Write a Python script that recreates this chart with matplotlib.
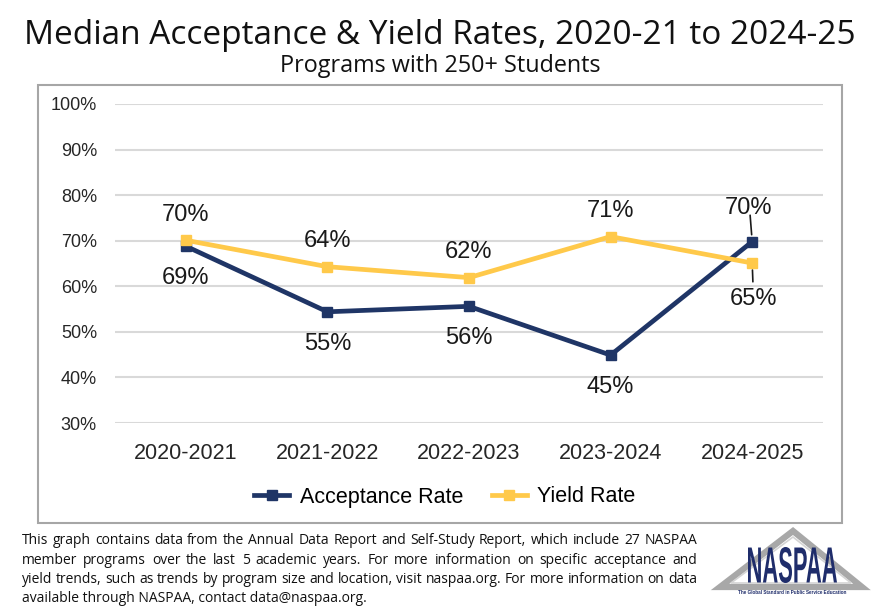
import matplotlib
matplotlib.use("Agg")
import matplotlib.pyplot as plt
from matplotlib.patches import Rectangle, Polygon, PathPatch
from matplotlib.lines import Line2D
from matplotlib.textpath import TextPath
from matplotlib.font_manager import FontProperties
from matplotlib.transforms import Affine2D

categories = ["2020-2021", "2021-2022", "2022-2023", "2023-2024", "2024-2025"]
acceptance = [68.8, 54.4, 55.6, 44.9, 69.8]
yield_rate = [70.1, 64.3, 61.9, 70.9, 65.1]
acc_labels = ["69%", "55%", "56%", "45%", "70%"]
yld_labels = ["70%", "64%", "62%", "71%", "65%"]
y_ticks = [30, 40, 50, 60, 70, 80, 90, 100]

NAVY = "#1f3566"
GOLD = "#ffc94a"
W, H = 880, 608
fig = plt.figure(figsize=(W / 100, H / 100), dpi=100)

def fx(px):
    return px / W

def fy(py):
    return 1 - py / H

# outer chart box
fig.patches.append(Rectangle((fx(38), fy(523)), fx(842) - fx(38), fy(85) - fy(523),
                             transform=fig.transFigure, fill=False,
                             edgecolor="#a6a6a6", lw=1.5))

ax = fig.add_axes([fx(115), fy(423), fx(823) - fx(115), fy(104) - fy(423)])
x = list(range(len(categories)))
ax.set_xlim(-0.5, len(categories) - 0.5)
ax.set_ylim(30, 100)
ax.set_yticks(y_ticks)
ax.set_yticklabels([f"{t}%" for t in y_ticks], fontsize=13, family="Liberation Sans", color="#262626")
ax.set_xticks(x)
ax.set_xticklabels(categories, fontsize=15.5, family="Liberation Sans", color="#262626")
ax.tick_params(axis="y", length=0, pad=13)
ax.tick_params(axis="x", length=0, pad=14.5)
for s in ax.spines.values():
    s.set_visible(False)
ax.grid(axis="y", color="#d9d9d9", lw=1.5)
ax.set_axisbelow(True)

ax.plot(x, acceptance, color=NAVY, lw=3.4, marker="s", ms=7.5, label="Acceptance Rate", zorder=3)
ax.plot(x, yield_rate, color=GOLD, lw=3.4, marker="s", ms=7.5, label="Yield Rate", zorder=4)

lab_kw = dict(fontsize=17, family="Liberation Sans", color="#1a1a1a", ha="center", va="center")
n = len(categories)
for i in range(n - 1):
    ax.annotate(acc_labels[i], (x[i], acceptance[i]), xytext=(0, -23), textcoords="offset points", **lab_kw)
    ax.annotate(yld_labels[i], (x[i], yield_rate[i]), xytext=(0, 18.5), textcoords="offset points", **lab_kw)

# last point labels with leader lines
i = n - 1
ax.annotate(acc_labels[i], (x[i], acceptance[i]), xytext=(-3, 24.5), textcoords="offset points", **lab_kw)
ax.annotate("", (x[i], acceptance[i]), xytext=(-1.5, 19), textcoords="offset points",
            arrowprops=dict(arrowstyle="-", color="#1a1a1a", lw=1.2, shrinkA=0, shrinkB=5))
ax.annotate(yld_labels[i], (x[i], yield_rate[i]), xytext=(1, -26), textcoords="offset points", **lab_kw)
ax.annotate("", (x[i], yield_rate[i]), xytext=(0.5, -13.5), textcoords="offset points",
            arrowprops=dict(arrowstyle="-", color="#1a1a1a", lw=1.2, shrinkA=0, shrinkB=5))

handles = [Line2D([], [], color=NAVY, lw=3.4, marker="s", ms=6.5),
           Line2D([], [], color=GOLD, lw=3.4, marker="s", ms=6.5)]
fig.legend(handles, ["Acceptance Rate", "Yield Rate"], loc="center", bbox_to_anchor=(fx(445), fy(497)),
           ncol=2, frameon=False, prop=dict(family="Liberation Sans", size=15.5),
           handlelength=1.6, columnspacing=1.35, handletextpad=0.5)

fig.text(fx(440), fy(35), "Median Acceptance & Yield Rates, 2020-21 to 2024-25", ha="center", va="center",
         fontsize=24, family="Open Sans", color="#111111")
fig.text(fx(440), fy(66), "Programs with 250+ Students", ha="center", va="center",
         fontsize=16.8, family="Open Sans", color="#111111")

footer = ["This graph contains data from the Annual Data Report and Self-Study Report, which include 27 NASPAA",
          "member programs over the last 5 academic years. For more information on specific acceptance and",
          "yield trends, such as trends by program size and location, visit naspaa.org. For more information on data",
          "available through NASPAA, contact data@naspaa.org."]
foot_fs = 10.0
foot_left, foot_right = 22, 697
renderer = fig.canvas.get_renderer()
for k, line in enumerate(footer):
    ypos = fy(541 + k * 19.3)
    words = line.split(" ")
    if k == len(footer) - 1:
        fig.text(fx(foot_left), ypos, line, ha="left", va="center", fontsize=foot_fs,
                 family="Open Sans", color="#111111")
        continue
    texts = [fig.text(0, ypos, w, ha="left", va="center", fontsize=foot_fs,
                      family="Open Sans", color="#111111") for w in words]
    widths = [t.get_window_extent(renderer).width for t in texts]
    gap = (foot_right - foot_left - sum(widths)) / (len(words) - 1)
    cur = foot_left
    for t, wd in zip(texts, widths):
        t.set_x(fx(cur))
        cur += wd + gap

# logo
tri_outer = [(fx(720), fy(587)), (fx(793), fy(531)), (fx(862), fy(587))]
fig.patches.append(Polygon(tri_outer, closed=True, transform=fig.transFigure, fill=False,
                           edgecolor="#a8a8a8", lw=4.5, joinstyle="miter"))
tri_inner = [(fx(731), fy(583)), (fx(793), fy(537)), (fx(851), fy(583))]
fig.patches.append(Polygon(tri_inner, closed=True, transform=fig.transFigure, fill=False,
                           edgecolor="#d4d4d4", lw=1.2))
tp = TextPath((0, 0), "NASPAA", size=10, prop=FontProperties(family="Liberation Sans", weight="bold"))
bb = tp.get_extents()
tx0, ty0, tx1, ty1 = 748, 583, 837, 547  # pixel box (y down)
sx = (fx(tx1) - fx(tx0)) / bb.width
sy = (fy(ty1) - fy(ty0)) / bb.height
tr = Affine2D().translate(-bb.x0, -bb.y0).scale(sx, sy).translate(fx(tx0), fy(ty0))
fig.patches.append(PathPatch(tr.transform_path(tp), transform=fig.transFigure,
                             facecolor="#1f2d6b", edgecolor="none"))
fig.text(fx(792), fy(593), "The Global Standard in Public Service Education", ha="center", va="center",
         fontsize=3.3, family="Liberation Sans", fontweight="bold", color="#1f2d6b")

fig.savefig("out.png", dpi=100)
